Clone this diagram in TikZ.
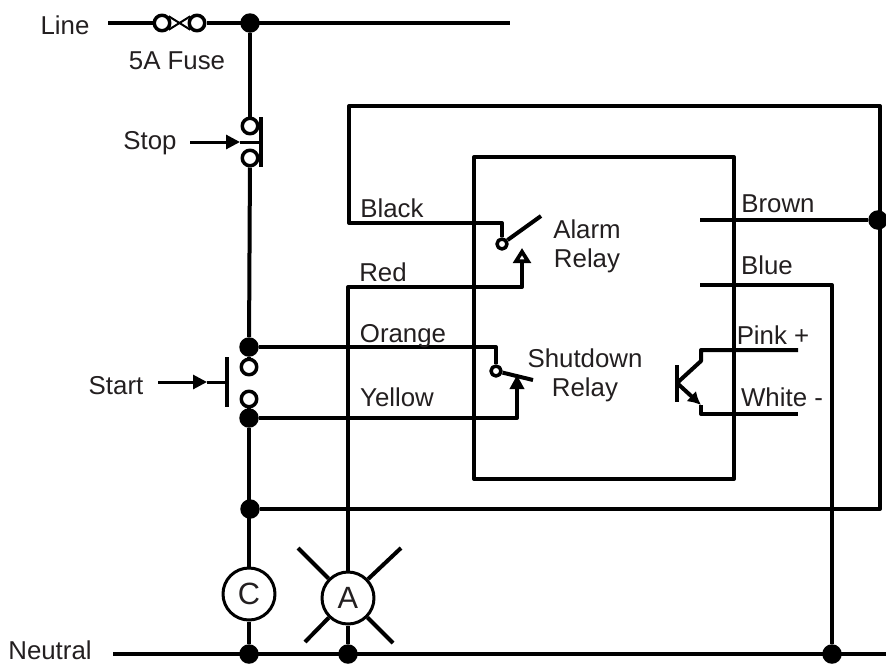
\documentclass[tikz,border=0pt]{standalone}
\usepackage{fontspec}
\setmainfont{Liberation Sans}
\usetikzlibrary{arrows.meta}
\definecolor{labelink}{HTML}{231F20}
\tikzset{
	wire/.style={line width=0.8mm},
	thinwire/.style={line width=0.6mm},
	dot/.style={circle,fill=black,inner sep=0pt,minimum size=3.9mm},
	contact/.style={circle,draw,line width=0.7mm,inner sep=0pt,minimum size=3.1mm},
	relaypin/.style={circle,draw,line width=0.7mm,inner sep=0pt,minimum size=2mm},
	meter/.style={circle,draw,line width=0.6mm,inner sep=0pt,minimum size=10.4mm,text=labelink,font=\fontsize{17.5}{19}\selectfont},
	lbl/.style={text=labelink,inner sep=0pt,font=\fontsize{14.7}{16}\selectfont},
	solidtip/.style={-{Triangle[length=2.8mm,width=2.8mm]}},
	opentip/.style={-{Triangle[open,length=3mm,width=3.5mm]}}
}
\begin{document}
\begin{tikzpicture}[x=0.2mm,y=-0.2mm,line join=round]
	\useasboundingbox (0,0) rectangle (886,663);
	%\draw[color=gray!50,dashed] (0,0) grid (886,663);
	\foreach \n/\x/\y in {dotLine/250/23,dotOrange/249/347,dotYellow/249/418,dotFeed/250/509,dotNC/249/654,dotNA/348/654,dotNB/832/654,dotBrown/878/220}
	\node[dot] (\n) at (\x,\y) {};
	\foreach \n/\x/\y in {fuseL/162/23,fuseR/197/23,stopA/250/126,stopB/250/158,startA/249/367,startB/249/399}
	\node[contact] (\n) at (\x,\y) {};
	\node[relaypin] (pinA) at (502,244) {};
	\node[relaypin] (pinS) at (496,371) {};
	\node[meter] (meterC) at (249,594) {C};
	\node[meter] (meterA) at (348,598) {A};
	\foreach \n/\x/\y in {lineL/108/23,lineR/510/23,neutralL/113/654,neutralR/886/654,
		stopTail/190/142,stopTip/240/142,stopBarT/261/117,stopBarB/261/167,stopBarM/261/142,
		startTail/158/382,startTip/207/382,startBarT/227/357,startBarB/227/407,startBarM/227/382,
		blackL/349/223,loopTL/349/106,loopTR/880/106,feedBR/880/509,redC/348/287,
		armA/541/216,tipA/522/248,armS/533/380,tipS/517/375,
		brownL/700/220,blueL/700/285,blueR/832/285,
		baseT/677/365,baseB/677/402,baseM/677/383,collK/701/361,collT/701/350,collR/798/350,
		emitK/701/405,emitB/701/414,emitR/798/414,
		rayA/298/548,rayB/401/548,rayC/305/642,rayD/393/643}
	\coordinate (\n) at (\x,\y);
	\draw[wire] (lineL)--(fuseL);
	\draw[wire] (fuseR)--(lineR);
	\draw[line width=0.4mm] (fuseL.north east)--(fuseR.south west);
	\draw[line width=0.4mm] (fuseL.south east)--(fuseR.north west);
	\draw[wire] (dotLine)--(stopA);
	\draw[wire] (stopB)--(dotOrange);
	\draw[wire] (dotOrange)--(startA);
	\draw[wire] (startB)--(dotYellow);
	\draw[wire] (dotYellow)--(meterC);
	\draw[wire] (meterC)--(dotNC);
	\draw[wire] (neutralL)--(neutralR);
	\draw[wire] (stopBarT)--(stopBarB);
	\draw[wire] (startBarT)--(startBarB);
	\draw[thinwire,solidtip] (stopTail)--(stopTip);
	\draw[thinwire] (stopTip)--(stopBarM);
	\draw[thinwire,solidtip] (startTail)--(startTip);
	\draw[thinwire] (startTip)--(startBarM);
	% loop and relay wiring
	\draw[wire] (pinA) |- (blackL)--(loopTL)--(loopTR)--(feedBR)--(dotFeed);
	\draw[wire] (pinA)--(armA);
	\draw[wire,opentip] (meterA)--(redC) -| (tipA);
	\draw[wire] (meterA)--(dotNA);
	\draw[wire] (dotOrange) -| (pinS);
	\draw[wire] (pinS)--(armS);
	\draw[wire,solidtip] (dotYellow) -| (tipS);
	\draw[wire] (474,157) rectangle (734,479);
	\draw[wire] (brownL)--(dotBrown);
	\draw[wire] (blueL)--(blueR)--(dotNB);
	% transistor
	\draw[wire] (baseT)--(baseB);
	\draw[wire] (baseM)--(collK)--(collT)--(collR);
	\draw[wire,-{Latex[length=2.6mm,width=2.8mm]}] (baseM)--(emitK);
	\draw[wire] (emitK)--(emitB)--(emitR);
	\foreach \r in {rayA,rayB,rayC,rayD}
	\draw[wire] (meterA)--(\r);
	\node[lbl] (lblLine) at (65,25) {Line};
	\node[lbl] (lblFuse) at (177,61) {5A Fuse};
	\node[lbl] (lblStop) at (150,143) {Stop};
	\node[lbl] (lblStart) at (116,386) {Start};
	\node[lbl] (lblNeutral) at (50,650) {Neutral};
	\node[lbl] (lblBlack) at (392,208) {Black};
	\node[lbl] (lblRed) at (383,272) {Red};
	\node[lbl] (lblOrange) at (403,336) {Orange};
	\node[lbl] (lblYellow) at (397,397) {Yellow};
	\node[lbl] (lblAlarm) at (587,229) {Alarm};
	\node[lbl] (lblRelayA) at (587,261) {Relay};
	\node[lbl] (lblShut) at (585,358) {Shutdown};
	\node[lbl] (lblRelayS) at (585,390) {Relay};
	\node[lbl] (lblBrown) at (778,204) {Brown};
	\node[lbl] (lblBlue) at (767,265) {Blue};
	\node[lbl] (lblPink) at (773,335) {Pink +};
	\node[lbl] (lblWhite) at (782,397) {White -};
\end{tikzpicture}
\end{document}
